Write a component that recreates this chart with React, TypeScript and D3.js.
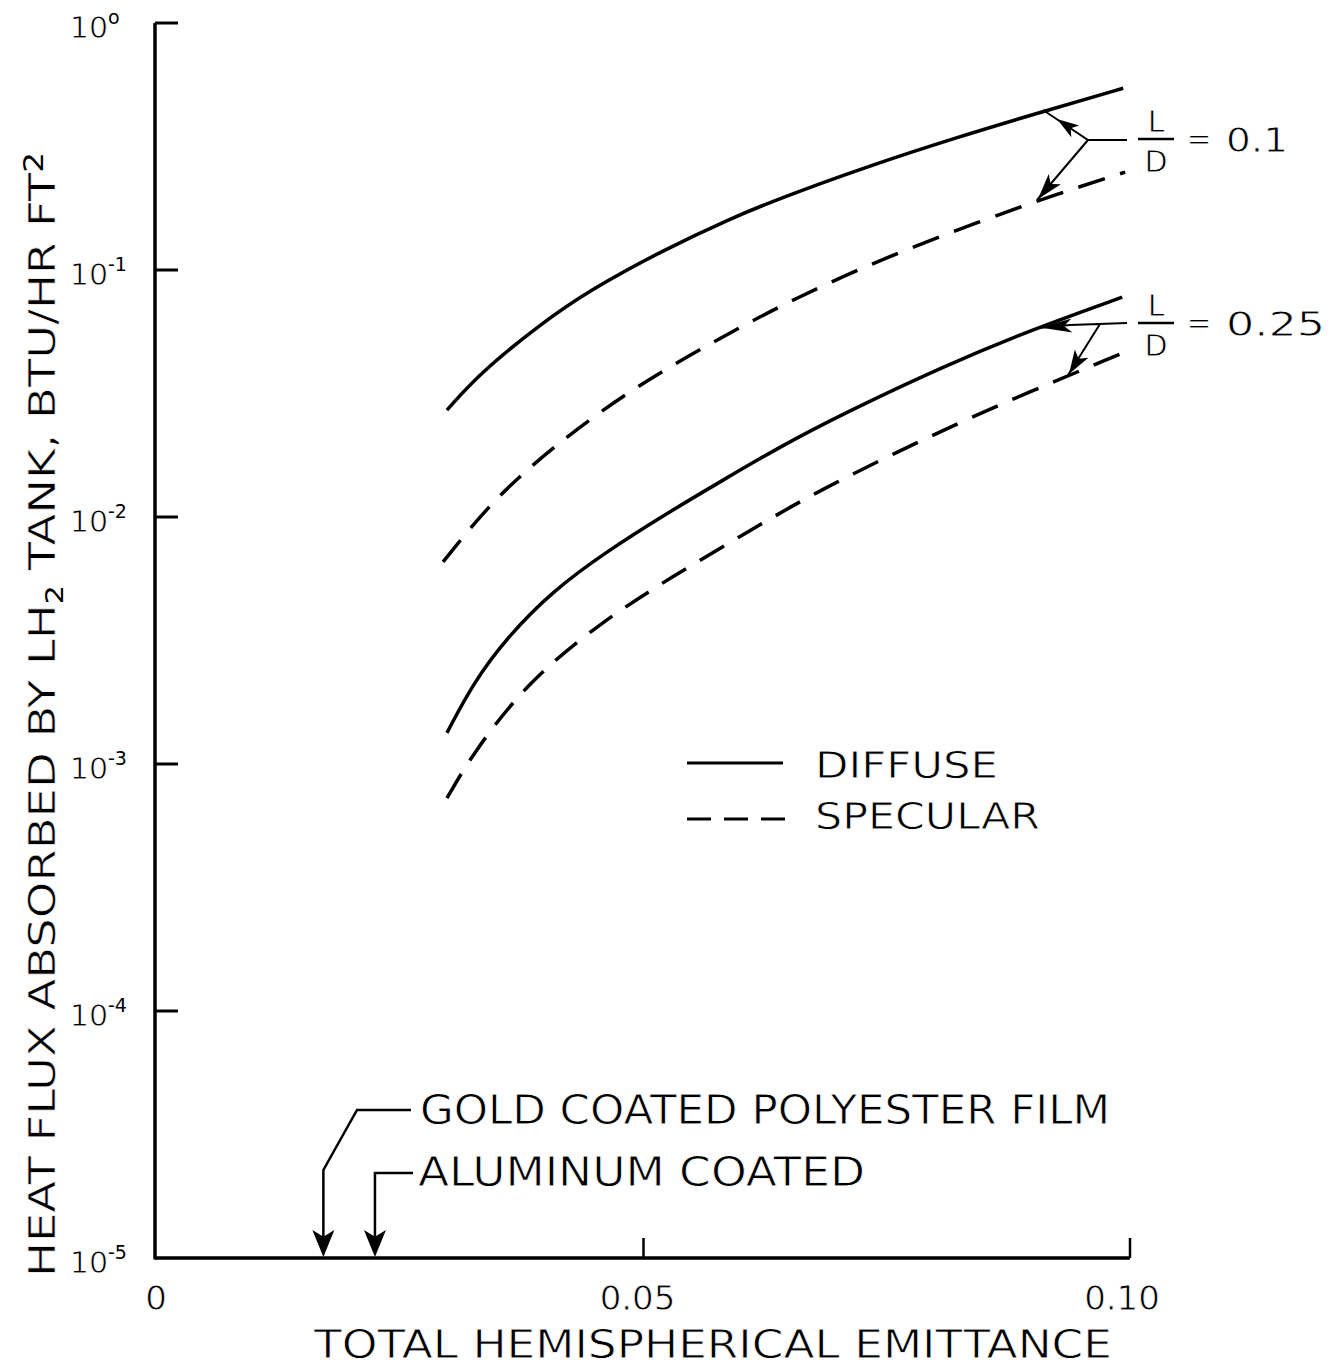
import React from "react";
import * as d3 from "d3";

// ---- data ----
const emitDiffuse01 = [0.0298, 0.0332, 0.0394, 0.0445, 0.052, 0.0589, 0.064, 0.0723, 0.0825, 0.0911, 0.0993];
const fluxDiffuse01 = [0.0271, 0.0383, 0.0604, 0.083, 0.1202, 0.1614, 0.195, 0.257, 0.3475, 0.4385, 0.5445];

const emitSpecular01 = [0.0294, 0.0345, 0.0409, 0.0486, 0.0571, 0.0658, 0.075, 0.0843, 0.0928, 0.0995];
const fluxSpecular01 = [0.00658, 0.01172, 0.01954, 0.03266, 0.0512, 0.0778, 0.113, 0.156, 0.205, 0.249];

const emitDiffuse025 = [0.0298, 0.0325, 0.036, 0.0407, 0.0462, 0.052, 0.0582, 0.064, 0.0705, 0.0808, 0.09, 0.0992];
const fluxDiffuse025 = [0.001337, 0.002128, 0.003266, 0.005035, 0.007244, 0.01012, 0.01413, 0.01923, 0.02618, 0.04074, 0.05754, 0.07762];

const emitSpecular025 = [0.0298, 0.0325, 0.038, 0.0455, 0.0527, 0.061, 0.0681, 0.0771, 0.0859, 0.0995];
const fluxSpecular025 = [0.000728, 0.00111, 0.00213, 0.00372, 0.00566, 0.00885, 0.01285, 0.01919, 0.02786, 0.04656];

const yTickExps = [0, -1, -2, -3, -4, -5];
const yTickSup = ["o", "-1", "-2", "-3", "-4", "-5"];
const xTicks = [0, 0.05, 0.1];
const xTickLabels = ["0", "0.05", "0.10"];

const materialNames = ["GOLD COATED POLYESTER FILM", "ALUMINUM COATED"];
const materialEmit = [0.0171, 0.0224];

const legendLabels = ["DIFFUSE", "SPECULAR"];
const ratioLabels = ["0.1", "0.25"];

const FONT = "'DejaVu Sans', 'Liberation Sans', sans-serif";
// thin the glyphs a little with a white outline (reference lettering is light)
const thin = { fill: "#000", stroke: "#fff", strokeWidth: 0.8 } as const;

export default function App() {
  const x = d3.scaleLinear().domain([0, 0.1]).range([157, 1130]);
  const y = d3.scaleLog().domain([1e-5, 1]).range([1258, 23]);
  const line = d3
    .line<[number, number]>()
    .x((d) => x(d[0]))
    .y((d) => y(d[1]))
    .curve(d3.curveBasis);

  const zip = (a: number[], b: number[]) => a.map((v, i) => [v, b[i]] as [number, number]);
  const series = [
    { pts: zip(emitDiffuse01, fluxDiffuse01), dashed: false },
    { pts: zip(emitSpecular01, fluxSpecular01), dashed: true },
    { pts: zip(emitDiffuse025, fluxDiffuse025), dashed: false },
    { pts: zip(emitSpecular025, fluxSpecular025), dashed: true },
  ];

  const x0 = x(0) - 2;
  const yBottom = y(1e-5);
  const yTop = y(1);

  // barbed arrow head, tip at (tx,ty), pointing away from (fx,fy)
  const arrow = (tx: number, ty: number, fx: number, fy: number, len: number, hw: number) => {
    const dx = tx - fx;
    const dy = ty - fy;
    const L = Math.hypot(dx, dy);
    const ux = dx / L;
    const uy = dy / L;
    const px = -uy;
    const py = ux;
    const bx = tx - ux * len;
    const by = ty - uy * len;
    const nx = tx - ux * len * 0.75;
    const ny = ty - uy * len * 0.75;
    return `M${tx},${ty}L${bx + px * hw},${by + py * hw}L${nx},${ny}L${bx - px * hw},${by - py * hw}Z`;
  };

  const xEnd = x(0.1);

  return (
    <svg
      width={1335}
      height={1368}
      style={{ position: "absolute", left: 0, top: 0, background: "#fff" }}
      fontFamily={FONT}
    >
      <rect x={0} y={0} width={1335} height={1368} fill="#fff" />

      {/* axes */}
      <line x1={x0} y1={yTop} x2={x0} y2={yBottom + 1.5} stroke="#000" strokeWidth={3.5} />
      <line x1={x0} y1={yBottom} x2={xEnd} y2={yBottom} stroke="#000" strokeWidth={3.5} />
      {yTickExps.map((e, i) => {
        const ty = y(Math.pow(10, e));
        return (
          <g key={"yt" + i}>
            {e !== -5 && <line x1={x0} y1={ty} x2={x0 + 23} y2={ty} stroke="#000" strokeWidth={3} />}
            <text x={108} y={ty + 15} fontSize={30} textAnchor="end" {...thin}>
              10
            </text>
            <text x={108} y={ty + 1} fontSize={19} fill="#000">
              {yTickSup[i]}
            </text>
          </g>
        );
      })}
      {xTicks.map((t, i) => (
        <g key={"xt" + i}>
          {t > 0 && <line x1={x(t)} y1={yBottom} x2={x(t)} y2={yBottom - 20} stroke="#000" strokeWidth={2.5} />}
          <text
            x={i === 0 ? x(t) - 1 : i === 1 ? x(t) - 6 : x(t) - 8}
            y={1310}
            fontSize={34}
            textAnchor="middle"
            {...thin}
          >
            {xTickLabels[i]}
          </text>
        </g>
      ))}

      {/* axis titles */}
      <text x={314} y={1358} fontSize={39} textLength={798} lengthAdjust="spacingAndGlyphs" {...thin}>
        TOTAL HEMISPHERICAL EMITTANCE
      </text>
      <text
        transform="translate(55,1277) rotate(-90)"
        fontSize={37}
        textLength={1125}
        lengthAdjust="spacingAndGlyphs"
        fill="#000"
        stroke="#fff"
        strokeWidth={0.6}
      >
        HEAT FLUX ABSORBED BY LH
        <tspan fontSize={24} dy={8} stroke="none">2</tspan>
        <tspan dy={-8}> TANK, BTU/HR FT</tspan>
        <tspan fontSize={26} dy={-12} stroke="none">2</tspan>
      </text>

      {/* curves */}
      {series.map((s, i) => (
        <path
          key={"s" + i}
          d={line(s.pts) || ""}
          fill="none"
          stroke="#000"
          strokeWidth={3.5}
          strokeDasharray={s.dashed ? "28 16" : undefined}
        />
      ))}

      {/* legend */}
      <line x1={687} y1={763} x2={783} y2={763} stroke="#000" strokeWidth={3} />
      <line x1={687} y1={819} x2={785} y2={819} stroke="#000" strokeWidth={3} strokeDasharray="24 13" />
      <text x={815} y={778} fontSize={37} textLength={183} lengthAdjust="spacingAndGlyphs" {...thin}>
        {legendLabels[0]}
      </text>
      <text x={815} y={829} fontSize={37} textLength={225} lengthAdjust="spacingAndGlyphs" {...thin}>
        {legendLabels[1]}
      </text>

      {/* material markers */}
      {(() => {
        const gx = x(materialEmit[0]);
        const ax = x(materialEmit[1]);
        return (
          <g>
            <g stroke="#000" strokeWidth={2.5} fill="none">
              <path d={`M411,1110 L357,1110 L${gx},1170 L${gx},${yBottom - 10}`} />
              <path d={`M413,1173 L${ax},1173 L${ax},${yBottom - 10}`} />
            </g>
            <path d={arrow(gx, yBottom - 1, gx, 1170, 27, 11)} fill="#000" />
            <path d={arrow(ax, yBottom - 1, ax, 1173, 27, 11)} fill="#000" />
            <text x={420} y={1124} fontSize={40} {...thin} textLength={690} lengthAdjust="spacingAndGlyphs">
              {materialNames[0]}
            </text>
            <text x={418} y={1186} fontSize={40} {...thin} textLength={447} lengthAdjust="spacingAndGlyphs">
              {materialNames[1]}
            </text>
          </g>
        );
      })()}

      {/* L/D annotations */}
      <g stroke="#000" strokeWidth={2} fill="none">
        <path d="M1127,140 L1088,140 L1043,110 M1088,140 L1037,200" />
        <path d="M1127,323 L1070,325 L1038,328 M1100,324 L1068,375" />
      </g>
      <path d={arrow(1057, 119, 1088, 140, 22, 7)} fill="#000" />
      <path d={arrow(1038, 199, 1088, 140, 26, 8)} fill="#000" />
      <path d={arrow(1040, 327.5, 1080, 325, 32, 7)} fill="#000" />
      <path d={arrow(1069, 374, 1100, 324, 24, 8)} fill="#000" />
      {ratioLabels.map((lab, i) => {
        const by = i === 0 ? 139 : 323;
        return (
          <g key={"r" + i}>
            <text x={1156} y={by - 7} fontSize={30} textAnchor="middle" {...thin}>L</text>
            <line x1={1138} y1={by} x2={1174} y2={by} stroke="#000" strokeWidth={2.5} />
            <text x={1156} y={by + 33} fontSize={30} textAnchor="middle" {...thin}>D</text>
            <text x={1199} y={by + 10} fontSize={30} textAnchor="middle" {...thin}>=</text>
            <text x={1226} y={by + 13} fontSize={34} textLength={i === 0 ? 62 : 99} lengthAdjust="spacingAndGlyphs" {...thin}>
              {lab}
            </text>
          </g>
        );
      })}
    </svg>
  );
}
